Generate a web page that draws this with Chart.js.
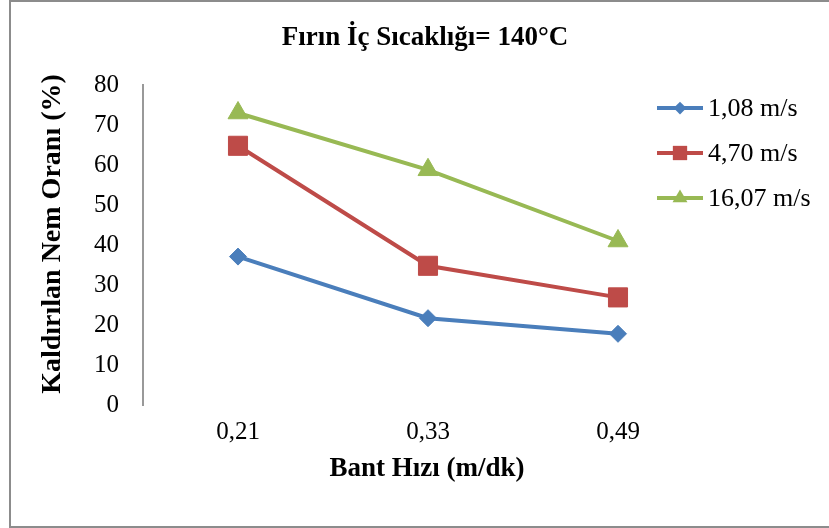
<!DOCTYPE html>
<html lang="tr">
<head>
    <meta charset="UTF-8">
    <title>Fırın İç Sıcaklığı= 140°C</title>
    <script src="https://cdn.jsdelivr.net/npm/chart.js"></script>
    <style>
        body { margin: 0; background: #fff; }
        canvas { display: block; }
    </style>
</head>
<body>
    <canvas id="myChart" width="829" height="528"></canvas>
    <script>
        // data
        const categories = ["0,21", "0,33", "0,49"];
        const seriesNames = ["1,08 m/s", "4,70 m/s", "16,07 m/s"];
        const values108 = [37.1, 21.7, 17.8];
        const values470 = [64.8, 34.8, 26.9];
        const values1607 = [73, 58.8, 41];
        const yMin = 0, yMax = 80, yStep = 10;

        const chartTitle = "Fırın İç Sıcaklığı= 140°C";
        const xTitle = "Bant Hızı (m/dk)";
        const yTitle = "Kaldırılan Nem Oranı (%)";

        const colors = ["#4A7EBB", "#BE4B48", "#98B954"];
        const markers = ["rectRot", "rect", "triangle"];
        const markerRadius = [8.5, 13.5, 11.5];
        const serif = "'Liberation Serif', 'Times New Roman', serif";

        function marker(ctx, style, x, y, r) {
            ctx.beginPath();
            if (style === "rectRot") {
                ctx.moveTo(x, y - r); ctx.lineTo(x + r, y); ctx.lineTo(x, y + r); ctx.lineTo(x - r, y);
            } else if (style === "rect") {
                const s = r * Math.SQRT1_2;
                ctx.rect(x - s, y - s, 2 * s, 2 * s);
            } else {
                ctx.moveTo(x, y - r);
                ctx.lineTo(x + r * 0.866, y + r / 2);
                ctx.lineTo(x - r * 0.866, y + r / 2);
            }
            ctx.closePath();
            ctx.fill();
        }

        // frame, title, axis titles and legend
        const decorations = {
            id: "decorations",
            beforeDraw(chart) {
                const ctx = chart.ctx;
                ctx.save();
                ctx.fillStyle = "#fff";
                ctx.fillRect(0, 0, chart.width, chart.height);
                ctx.strokeStyle = "#8c8c8c";
                ctx.lineWidth = 2;
                ctx.beginPath();
                ctx.moveTo(chart.width + 2, 1);
                ctx.lineTo(10, 1);
                ctx.lineTo(10, 527);
                ctx.lineTo(chart.width + 2, 527);
                ctx.stroke();
                ctx.restore();
            },
            afterDraw(chart) {
                const ctx = chart.ctx;
                ctx.save();
                ctx.fillStyle = "#000";
                ctx.textAlign = "center";
                ctx.textBaseline = "middle";

                ctx.font = "bold 27px " + serif;
                ctx.fillText(chartTitle, 425, 38);

                ctx.font = "bold 27px " + serif;
                ctx.fillText(xTitle, 427, 469);

                ctx.save();
                ctx.translate(53, 234);
                ctx.rotate(-Math.PI / 2);
                ctx.font = "bold 28px " + serif;
                ctx.fillText(yTitle, 0, 0);
                ctx.restore();

                // legend: line + marker + label
                ctx.textAlign = "left";
                ctx.font = "26px " + serif;
                chart.data.datasets.forEach((ds, i) => {
                    const y = 108 + i * 45;
                    ctx.strokeStyle = colors[i];
                    ctx.lineWidth = 4;
                    ctx.beginPath();
                    ctx.moveTo(657, y);
                    ctx.lineTo(703, y);
                    ctx.stroke();
                    ctx.fillStyle = colors[i];
                    marker(ctx, markers[i], 680, y, markerRadius[i] * 0.75);
                    ctx.fillStyle = "#000";
                    ctx.fillText(ds.label, 708, y + 1);
                });
                ctx.restore();
            }
        };

        function dataset(i, values) {
            return {
                label: seriesNames[i],
                data: values,
                borderColor: colors[i],
                backgroundColor: colors[i],
                borderWidth: 4,
                pointStyle: markers[i],
                pointRadius: markerRadius[i],
                pointHoverRadius: markerRadius[i],
                pointBackgroundColor: colors[i],
                pointBorderColor: colors[i],
                pointBorderWidth: 1,
                tension: 0
            };
        }

        const ctx = document.getElementById("myChart").getContext("2d");
        window.myChart = new Chart(ctx, {
            type: "line",
            data: {
                labels: categories,
                datasets: [
                    dataset(0, values108),
                    dataset(1, values470),
                    dataset(2, values1607)
                ]
            },
            options: {
                responsive: false,
                animation: false,
                layout: {
                    padding: { left: 83, right: 116, top: 85, bottom: 83 }
                },
                plugins: {
                    legend: { display: false },
                    title: { display: false },
                    tooltip: { enabled: false }
                },
                scales: {
                    x: {
                        offset: true,
                        grid: { display: false, drawTicks: false },
                        border: { display: false },
                        ticks: {
                            color: "#000",
                            padding: 12,
                            font: { family: serif, size: 25 }
                        },
                        afterFit: s => { s.height = 40; }
                    },
                    y: {
                        min: yMin,
                        max: yMax,
                        grid: { display: false, drawTicks: false },
                        border: { display: true, color: "#999", width: 2 },
                        ticks: {
                            stepSize: yStep,
                            color: "#000",
                            padding: 24,
                            font: { family: serif, size: 25 }
                        },
                        afterFit: s => { s.width = 60; }
                    }
                }
            },
            plugins: [decorations]
        });
    </script>
</body>
</html>
